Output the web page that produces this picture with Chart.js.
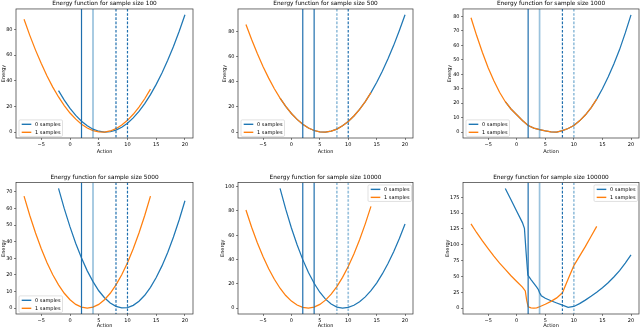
<!DOCTYPE html>
<html><head><meta charset="utf-8">
<script src="https://cdn.jsdelivr.net/npm/chart.js@4.4.1/dist/chart.umd.min.js"></script>
<style>
html,body{margin:0;padding:0;background:#fff;width:640px;height:328px;overflow:hidden;position:relative;}
canvas{position:absolute;}
</style></head><body>
<script>
// ---------------- data ----------------
const sampleSizes = [100, 500, 1000, 5000, 10000, 100000];
const seriesLabels = ['0 samples', '1 samples'];
const xTicks = [-5, 0, 5, 10, 15, 20];
const solidLinesX = [2, 4];
const dashedLinesX = [8, 10];

const blueX = [-2,-1,0,1,2,3,4,5,6,7,8,9,10,11,12,13,14,15,16,17,18,19,20];
const orangeX = [-8,-7,-6,-5,-4,-3,-2,-1,0,1,2,3,4,5,6,7,8,9,10,11,12,13,14];

const blueY1 = [32.3,24.9,18.5,13.0,8.5,4.9,2.3,0.7,0.0,0.3,1.6,3.8,6.9,11.1,16.1,22.2,29.2,37.2,46.1,56.0,66.8,78.6,91.4];
const orangeY1 = [87.9,75.4,63.9,53.4,43.8,35.1,27.4,20.7,14.9,10.1,6.2,3.2,1.2,0.2,0.1,0.9,2.7,5.5,9.2,13.9,19.5,26.0,33.5];
const yTicks1 = [0, 20, 40, 60, 80];

const blueY2 = [27.0,20.4,14.8,10.1,6.2,3.3,1.3,0.2,0.0,0.8,2.4,5.0,8.4,12.8,18.1,24.2,31.3,39.4,48.3,58.1,68.8,80.5,93.0];
const orangeY2 = [85.4,73.4,62.3,52.1,42.8,34.4,27.0,20.4,14.8,10.1,6.2,3.3,1.3,0.2,0.0,0.8,2.4,5.0,8.4,12.8,18.1,24.2,31.3];
const yTicks2 = [0, 20, 40, 60, 80];

const blueY3 = [21.0,16.0,12.0,8.0,4.6,2.8,1.7,0.8,0.2,0.0,1.0,2.5,4.6,7.8,11.8,16.8,22.8,30.0,38.0,47.0,57.0,68.5,81.0];
const orangeY3 = [79.0,66.5,55.0,44.5,35.5,27.5,21.0,16.0,12.0,8.0,4.6,2.8,1.7,0.8,0.2,0.0,1.0,2.5,4.6,7.8,11.8,16.8,22.8];
const yTicks3 = [0, 10, 20, 30, 40, 50, 60, 70, 80];

const blueY4 = [72.1,59.9,48.9,38.9,30.1,22.4,15.9,10.4,6.2,3.0,1.0,0.1,0.3,1.6,4.1,7.7,12.5,18.4,25.4,33.5,42.8,53.2,64.7];
const orangeY4 = [67.5,55.8,45.2,35.7,27.3,20.1,14.0,8.9,5.0,2.2,0.6,0.0,0.6,2.2,5.0,8.9,14.0,20.1,27.3,35.7,45.2,55.8,67.5];
const yTicks4 = [0, 10, 20, 30, 40, 50, 60, 70];

const blueY5 = [98.6,81.5,66.0,52.2,39.9,29.3,20.4,13.0,7.3,3.3,0.8,0.0,0.6,2.3,5.2,9.2,14.3,20.6,28.1,36.7,46.4,57.3,69.3];
const orangeY5 = [80.8,66.6,53.9,42.4,32.4,23.7,16.3,10.3,5.7,2.5,0.6,0.0,0.8,3.0,6.5,11.4,17.7,25.3,34.3,44.6,56.3,69.4,83.8];
const yTicks5 = [0, 20, 40, 60, 80, 100];

const blueX6 = [-2,-1,0,1,1.35,1.65,1.95,2.5,3,3.5,3.8,4,4.3,5,6,7,8,9,10,11,12,13,14,15,16,17,18,19,20];
const blueY6 = [189,171,153,135,126,87,52,45,39,33,29,24,19.5,15.5,11.5,8,4.5,1,2.5,7,12.5,18.5,25,32,40,49,59,71,84];
const orangeX6 = [-8,-7,-6,-5,-4,-3,-2,-1,0,1,1.5,1.75,2,2.5,3,3.5,4,5,6,7,8,9,10,11,12,13,14];
const orangeY6 = [133,119,106,94,82,71,61,51,42,33,27,12,2,0.3,0,0.3,2,6,10.5,16,24,46,67,82,97,113,129];
const yTicks6 = [0, 25, 50, 75, 100, 125, 150, 175];

// ---------------- styles / layout ----------------
const FONT = '"DejaVu Sans", sans-serif';
const BLUE = '#1f77b4', ORANGE = '#ff7f0e';
const STRONG = '#1f6fae', LIGHT = 'rgba(31,119,180,0.45)';

const panels = [
  {size: sampleSizes[0], bx: blueX, by: blueY1, ox: orangeX, oy: orangeY1, yt: yTicks1},
  {size: sampleSizes[1], bx: blueX, by: blueY2, ox: orangeX, oy: orangeY2, yt: yTicks2},
  {size: sampleSizes[2], bx: blueX, by: blueY3, ox: orangeX, oy: orangeY3, yt: yTicks3},
  {size: sampleSizes[3], bx: blueX, by: blueY4, ox: orangeX, oy: orangeY4, yt: yTicks4},
  {size: sampleSizes[4], bx: blueX, by: blueY5, ox: orangeX, oy: orangeY5, yt: yTicks5},
  {size: sampleSizes[5], bx: blueX6, by: blueY6, ox: orangeX6, oy: orangeY6, yt: yTicks6}
];

// line style per panel: [solid@2, solid@4, dashed@8, dashed@10] -> 's' strong / 'l' light
const layouts = [
  {left:0,   top:0,   w:213, h:164, plotL:16, plotR:193, ytitle:3.3,  legend:'ll', row:0, vs:'slss'},
  {left:213, top:0,   w:213, h:164, plotL:25, plotR:200, ytitle:11.7, legend:'ll', row:0, vs:'ssls'},
  {left:426, top:0,   w:214, h:164, plotL:37, plotR:213, ytitle:23.3, legend:'ll', row:0, vs:'slsl'},
  {left:0,   top:164, w:213, h:170, plotL:16, plotR:193, ytitle:3.3,  legend:'ll', row:1, vs:'slss'},
  {left:213, top:164, w:213, h:170, plotL:25, plotR:200, ytitle:10,   legend:'ur', row:1, vs:'ssll'},
  {left:426, top:164, w:214, h:170, plotL:37, plotR:213, ytitle:21.7, legend:'ur', row:1, vs:'slsl'}
];
const rows = [
  {titleTop:0.5, titleBottom:1.5, xH:17, padBottom:9},
  {titleTop:10.5, titleBottom:1.0, xH:15, padBottom:5}
];

const fmt = v => v < 0 ? '\u2212' + Math.abs(v) : String(v);

const decor = {
  id: 'mplDecor',
  afterDatasetsDraw(chart, args, opts) {
    const {ctx, chartArea: a, scales: {x}} = chart;
    ctx.save();
    ctx.beginPath(); ctx.rect(a.left, a.top, a.right - a.left, a.bottom - a.top); ctx.clip();
    const lines = solidLinesX.map(v => ({v, dash: []})).concat(dashedLinesX.map(v => ({v, dash: [2.6, 1.6]})));
    lines.forEach((ln, k) => {
      const strong = opts.vs[k] === 's';
      const px = x.getPixelForValue(ln.v);
      ctx.beginPath();
      ctx.strokeStyle = strong ? STRONG : LIGHT;
      ctx.lineWidth = strong ? 1.2 : 1.7;
      ctx.setLineDash(ln.dash);
      ctx.moveTo(px, a.top); ctx.lineTo(px, a.bottom); ctx.stroke();
    });
    ctx.restore();
    ctx.save();
    ctx.strokeStyle = '#333'; ctx.lineWidth = 0.7;
    ctx.strokeRect(a.left, a.top, a.right - a.left, a.bottom - a.top);
    ctx.restore();
    const w = 43.5, h = 16.5;
    let bx, by;
    if (opts.legend === 'll') { bx = a.left + 3; by = a.bottom - 1.6 - h; }
    else { bx = a.right - 1.5 - w; by = a.top + 2.5; }
    ctx.save();
    ctx.fillStyle = 'rgba(255,255,255,0.8)';
    ctx.strokeStyle = '#cccccc'; ctx.lineWidth = 0.6;
    ctx.beginPath();
    ctx.roundRect(bx, by, w, h, 1.2);
    ctx.fill(); ctx.stroke();
    chart.data.datasets.forEach((ds, i) => {
      const cy = by + 4.4 + i * 8;
      ctx.strokeStyle = ds.borderColor; ctx.lineWidth = 1.4; ctx.setLineDash([]);
      ctx.beginPath(); ctx.moveTo(bx + 2.7, cy); ctx.lineTo(bx + 12.3, cy); ctx.stroke();
      ctx.fillStyle = '#000'; ctx.font = '5px ' + FONT;
      ctx.textBaseline = 'middle'; ctx.textAlign = 'left';
      ctx.fillText(ds.label, bx + 16, cy);
    });
    ctx.restore();
  }
};

function makeChart(i) {
  const L = layouts[i], P = panels[i], R = rows[L.row];
  const canvas = document.createElement('canvas');
  canvas.width = L.w; canvas.height = L.h;
  canvas.style.left = L.left + 'px'; canvas.style.top = L.top + 'px';
  canvas.style.width = L.w + 'px'; canvas.style.height = L.h + 'px';
  document.body.appendChild(canvas);
  const allX = P.bx.concat(P.ox), allY = P.by.concat(P.oy);
  const x0 = Math.min(...allX), x1 = Math.max(...allX);
  const y0 = Math.min(...allY), y1 = Math.max(...allY);
  const xm = 0.05 * (x1 - x0), ym = 0.05 * (y1 - y0);
  const padL = L.ytitle - 3;
  const tickFont = {family: FONT, size: 5};
  new Chart(canvas, {
    type: 'line',
    data: {datasets: [
      {label: seriesLabels[0], data: P.bx.map((x, k) => ({x, y: P.by[k]})), borderColor: BLUE, backgroundColor: BLUE,
       borderWidth: 1.25, pointRadius: 0, tension: 0, fill: false, order: 2},
      {label: seriesLabels[1], data: P.ox.map((x, k) => ({x, y: P.oy[k]})), borderColor: ORANGE, backgroundColor: ORANGE,
       borderWidth: 1.25, pointRadius: 0, tension: 0, fill: false, order: 1}
    ]},
    options: {
      responsive: false, animation: false, devicePixelRatio: 1,
      layout: {padding: {left: padL, right: L.w - L.plotR, top: 0, bottom: R.padBottom}},
      plugins: {
        legend: {display: false}, tooltip: {enabled: false},
        title: {display: true, fullSize: false, text: 'Energy function for sample size ' + P.size, color: '#000',
                font: {family: FONT, size: 5.8, weight: 'normal'}, padding: {top: R.titleTop, bottom: R.titleBottom}},
        mplDecor: {legend: L.legend, vs: L.vs}
      },
      scales: {
        x: {
          type: 'linear', min: x0 - xm, max: x1 + xm,
          afterBuildTicks: s => { s.ticks = xTicks.map(v => ({value: v})); },
          afterFit: s => { s.height = R.xH; },
          grid: {drawOnChartArea: false, drawTicks: true, tickLength: 2, color: '#333', lineWidth: 0.6},
          border: {display: false},
          ticks: {font: tickFont, color: '#000', padding: 1.5, maxRotation: 0, autoSkip: false, callback: v => fmt(v)},
          title: {display: true, text: 'Action', font: tickFont, color: '#000', padding: {top: 0, bottom: 0}}
        },
        y: {
          type: 'linear', min: y0 - ym, max: y1 + ym,
          afterBuildTicks: s => { s.ticks = P.yt.map(v => ({value: v})); },
          afterFit: s => { s.width = L.plotL - padL; },
          grid: {drawOnChartArea: false, drawTicks: true, tickLength: 2, color: '#333', lineWidth: 0.6},
          border: {display: false},
          ticks: {font: tickFont, color: '#000', padding: 1.5, autoSkip: false, callback: v => fmt(v)},
          title: {display: true, text: 'Energy', font: tickFont, color: '#000', padding: {top: 0, bottom: 0}}
        }
      }
    },
    plugins: [decor]
  });
}
for (let i = 0; i < 6; i++) makeChart(i);
</script>
</body></html>
